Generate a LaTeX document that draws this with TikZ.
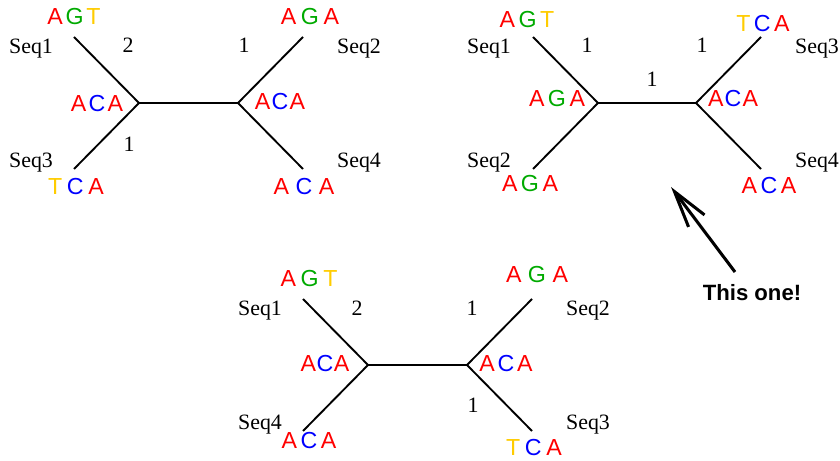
\documentclass[tikz,border=0pt]{standalone}
\usepackage{fontspec}
\setmainfont{Liberation Serif}
\newfontfamily\basefont{Liberation Sans}
\usetikzlibrary{arrows.meta}
\definecolor{baseA}{RGB}{255,0,0}
\definecolor{baseC}{RGB}{0,0,255}
\definecolor{baseG}{RGB}{0,170,0}
\definecolor{baseT}{RGB}{255,204,0}
\tikzset{%
  seqname/.style={anchor=base, inner sep=0pt, font=\fontsize{18.7}{20}\selectfont},% leaf names
  brlen/.style={seqname},% branch lengths
  sites/.style={anchor=base, inner sep=0pt, font=\basefont\fontsize{19.8}{20}\selectfont},% site triplets
  branch/.style={line width=1.6pt},
  hint/.style={anchor=base, inner sep=0pt, font=\basefont\bfseries\fontsize{18.9}{20}\selectfont}
}
\newcommand*{\nuc}[1]{\textcolor{base#1}{#1}}
\newcommand*{\triplet}[4]{\nuc{#2}\hspace{#1}\nuc{#3}\hspace{#1}\nuc{#4}}
% unrooted tree with four leaves: name, left inner node, right inner node
\newcommand*{\quartet}[3]{
  \coordinate (#1-l) at #2;
  \coordinate (#1-r) at #3;
  \path (#1-l) ++(-65,-66) coordinate (#1-a);
  \path (#1-l) ++(-65,66) coordinate (#1-b);
  \path (#1-r) ++(65,-66) coordinate (#1-c);
  \path (#1-r) ++(65,66) coordinate (#1-d);
  \draw[branch] (#1-a) -- (#1-l) -- (#1-b) (#1-l) -- (#1-r)
    (#1-c) -- (#1-r) -- (#1-d);
}

\begin{document}
\begin{tikzpicture}[x=0.03cm, y=-0.03cm]
\useasboundingbox (0,0) rectangle (840,461);

% first tree
\quartet{t1}{(139,103)}{(238,103)}
\node[sites] (t1-xa) at (74,25) {\triplet{.12em}{A}{G}{T}};
\node[seqname] (t1-na) at (31,54) {Seq1};
\node[brlen] (t1-ea) at (128,53) {2};
\node[brlen] (t1-ec) at (244,53) {1};
\node[sites] (t1-xc) at (310,25) {\triplet{.2em}{A}{G}{A}};
\node[seqname] (t1-nc) at (359,54) {Seq2};
\node[sites] (t1-xl) at (97,112) {\triplet{.1em}{A}{C}{A}};
\node[sites] (t1-xr) at (280,110) {\triplet{.05em}{A}{C}{A}};
\node[brlen] (t1-eb) at (129,152) {1};
\node[seqname] (t1-nb) at (31,168) {Seq3};
\node[sites] (t1-xb) at (76,195) {\triplet{.2em}{T}{C}{A}};
\node[seqname] (t1-nd) at (359,168) {Seq4};
\node[sites] (t1-xd) at (304,195) {\triplet{.28em}{A}{C}{A}};

% second tree
\quartet{t2}{(598,103)}{(696,103)}
\node[sites] (t2-xa) at (527,28) {\triplet{.15em}{A}{G}{T}};
\node[seqname] (t2-na) at (489,54) {Seq1};
\node[brlen] (t2-ea) at (587,53) {1};
\node[brlen] (t2-ec) at (702,53) {1};
\node[brlen] (t2-em) at (652,87) {1};
\node[sites] (t2-xc) at (763,32) {\triplet{.15em}{T}{C}{A}};
\node[seqname] (t2-nc) at (817,54) {Seq3};
\node[sites] (t2-xl) at (557,107) {\triplet{.15em}{A}{G}{A}};
\node[sites] (t2-xr) at (733,107) {\triplet{.05em}{A}{C}{A}};
\node[seqname] (t2-nb) at (489,168) {Seq2};
\node[sites] (t2-xb) at (530,192) {\triplet{.15em}{A}{G}{A}};
\node[seqname] (t2-nd) at (817,168) {Seq4};
\node[sites] (t2-xd) at (769,194) {\triplet{.15em}{A}{C}{A}};

% third tree
\quartet{t3}{(368,365)}{(467,365)}
\node[sites] (t3-xa) at (309,287) {\triplet{.2em}{A}{G}{T}};
\node[seqname] (t3-na) at (260,316) {Seq1};
\node[brlen] (t3-ea) at (357,316) {2};
\node[brlen] (t3-ec) at (472,316) {1};
\node[sites] (t3-xc) at (537,283) {\triplet{.28em}{A}{G}{A}};
\node[seqname] (t3-nc) at (588,316) {Seq2};
\node[sites] (t3-xl) at (325,372) {\triplet{.02em}{A}{C}{A}};
\node[sites] (t3-xr) at (506,372) {\triplet{.12em}{A}{C}{A}};
\node[brlen] (t3-ed) at (473,413) {1};
\node[seqname] (t3-nb) at (260,430) {Seq4};
\node[sites] (t3-xb) at (309,449) {\triplet{.15em}{A}{C}{A}};
\node[sites] (t3-xd) at (534,455) {\triplet{.2em}{T}{C}{A}};
\node[seqname] (t3-nd) at (588,430) {Seq3};

% pointer
\node[hint] (pick) at (752,301) {This one!};
\coordinate (tail) at (735,272);
\coordinate (tip) at (671,187);
\draw[line width=2.6pt, -{Straight Barb[length=1.1cm, width=0.6cm]}] (tail) -- (tip);
\end{tikzpicture}
\end{document}
